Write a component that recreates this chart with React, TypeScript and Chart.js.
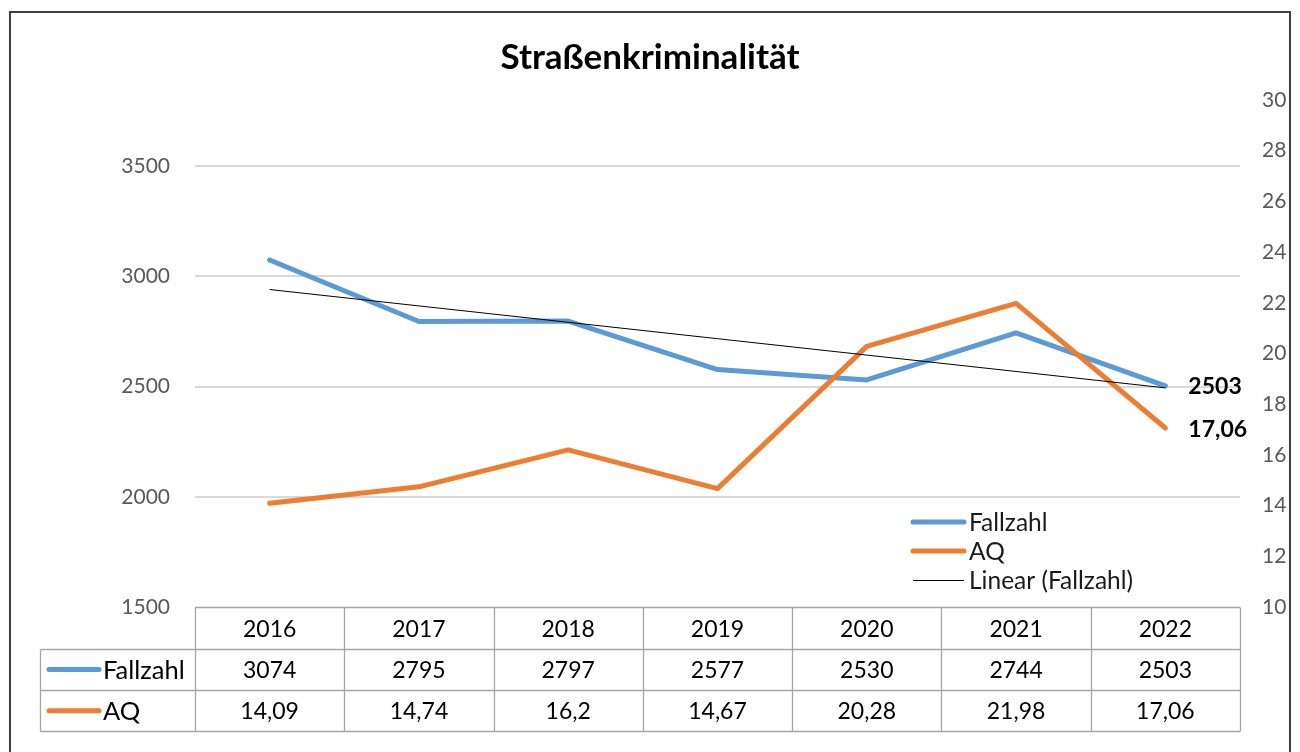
import React, { useEffect, useRef } from 'react';
import { Chart, registerables } from 'chart.js';

Chart.register(...registerables);

const TITLE = 'Straßenkriminalität';
const YEARS = ['2016', '2017', '2018', '2019', '2020', '2021', '2022'];
const FALLZAHL = [3074, 2795, 2797, 2577, 2530, 2744, 2503];
const AQ = [14.09, 14.74, 16.2, 14.67, 20.28, 21.98, 17.06];
const LEFT_TICKS = [1500, 2000, 2500, 3000, 3500];
const RIGHT_TICKS = [10, 12, 14, 16, 18, 20, 22, 24, 26, 28, 30];
const LEFT_MIN = 1500;
const LEFT_MAX = 3800;
const RIGHT_MIN = 10;
const RIGHT_MAX = 30;
const SERIES_NAMES = ['Fallzahl', 'AQ', 'Linear (Fallzahl)'];

const BLUE = '#5B9BD5';
const ORANGE = '#ED7D31';
const FONT = 'Lato, "Open Sans", "Noto Sans", sans-serif';

function linearTrend(values: number[]): number[] {
  const n = values.length;
  const xs = values.map((_, i) => i + 1);
  const mx = xs.reduce((a, b) => a + b, 0) / n;
  const my = values.reduce((a, b) => a + b, 0) / n;
  let sxy = 0;
  let sxx = 0;
  for (let i = 0; i < n; i++) {
    sxy += (xs[i] - mx) * (values[i] - my);
    sxx += (xs[i] - mx) * (xs[i] - mx);
  }
  const slope = sxy / sxx;
  return xs.map((x) => my + slope * (x - mx));
}

const fmt = (v: number) => String(v).replace('.', ',');

const decorPlugin = {
  id: 'decor',
  beforeDraw(chart: any) {
    const ctx = chart.ctx;
    ctx.save();
    ctx.fillStyle = '#ffffff';
    ctx.fillRect(0, 0, chart.width, chart.height);
    ctx.restore();
  },
  afterDraw(chart: any) {
    const ctx = chart.ctx as CanvasRenderingContext2D;
    const ca = chart.chartArea;
    const xs = chart.scales.x;
    ctx.save();

    // outer frame
    ctx.strokeStyle = '#3f3f3f';
    ctx.lineWidth = 2;
    ctx.strokeRect(10, 12, 1280, 800);

    // title
    ctx.fillStyle = '#000000';
    ctx.font = `bold 35px ${FONT}`;
    ctx.textAlign = 'center';
    ctx.textBaseline = 'middle';
    ctx.fillText(TITLE, 650, 58);

    // data table
    const n = YEARS.length;
    const colW = (ca.right - ca.left) / n;
    const rowH = 41.3;
    const top = Math.round(ca.bottom) + 0.5;
    const labelLeft = 40.5;
    ctx.strokeStyle = '#a6a6a6';
    ctx.lineWidth = 1.3;
    ctx.beginPath();
    ctx.moveTo(ca.left, top);
    ctx.lineTo(ca.right, top);
    for (let r = 1; r <= 3; r++) {
      const y = Math.round(top + r * rowH) + 0.5;
      ctx.moveTo(labelLeft, y);
      ctx.lineTo(ca.right, y);
    }
    for (let i = 0; i <= n; i++) {
      const x = Math.round(ca.left + i * colW) + 0.5;
      ctx.moveTo(x, top);
      ctx.lineTo(x, Math.round(top + 3 * rowH) + 0.5);
    }
    ctx.moveTo(labelLeft, Math.round(top + rowH) + 0.5);
    ctx.lineTo(labelLeft, Math.round(top + 3 * rowH) + 0.5);
    ctx.stroke();

    ctx.fillStyle = '#000000';
    ctx.font = `23px ${FONT}`;
    ctx.textAlign = 'center';
    ctx.textBaseline = 'middle';
    YEARS.forEach((yr, i) => {
      const cx = xs.getPixelForValue(i);
      ctx.fillText(yr, cx, top + rowH * 0.5 + 1);
      ctx.fillText(String(FALLZAHL[i]), cx, top + rowH * 1.5 + 1);
      ctx.fillText(fmt(AQ[i]), cx, top + rowH * 2.5 + 1);
    });

    // row labels with keys
    const rowKeys = [
      { name: SERIES_NAMES[0], color: BLUE },
      { name: SERIES_NAMES[1], color: ORANGE },
    ];
    rowKeys.forEach((k, r) => {
      const y = top + rowH * (1.5 + r);
      ctx.strokeStyle = k.color;
      ctx.lineWidth = 5;
      ctx.lineCap = 'round';
      ctx.beginPath();
      ctx.moveTo(49, y);
      ctx.lineTo(99, y);
      ctx.stroke();
      ctx.fillStyle = '#000000';
      ctx.font = `25.5px ${FONT}`;
      ctx.textAlign = 'left';
      ctx.fillText(k.name, 103, y + 1);
    });

    // legend inside plot
    const legendItems = [
      { name: SERIES_NAMES[0], color: BLUE, w: 5, y: 522 },
      { name: SERIES_NAMES[1], color: ORANGE, w: 5, y: 551 },
      { name: SERIES_NAMES[2], color: '#000000', w: 1, y: 580 },
    ];
    legendItems.forEach((it) => {
      ctx.strokeStyle = it.color;
      ctx.lineWidth = it.w;
      ctx.lineCap = it.w > 1 ? 'round' : 'butt';
      ctx.beginPath();
      ctx.moveTo(913, it.y + (it.w === 1 ? 0.5 : 0));
      ctx.lineTo(964, it.y + (it.w === 1 ? 0.5 : 0));
      ctx.stroke();
      ctx.fillStyle = '#1a1a1a';
      ctx.font = `24.5px ${FONT}`;
      ctx.textAlign = 'left';
      ctx.textBaseline = 'middle';
      ctx.fillText(it.name, 969, it.y + 1);
    });

    // data labels on last points
    const m0 = chart.getDatasetMeta(0).data;
    const m1 = chart.getDatasetMeta(1).data;
    const last = n - 1;
    ctx.fillStyle = '#000000';
    ctx.font = `bold 23px ${FONT}`;
    ctx.textAlign = 'left';
    ctx.textBaseline = 'middle';
    ctx.fillText(String(FALLZAHL[last]), m0[last].x + 23, m0[last].y + 1);
    ctx.fillText(fmt(AQ[last]), m1[last].x + 23, m1[last].y + 2);

    ctx.restore();
  },
};

export default function App() {
  const ref = useRef<HTMLCanvasElement | null>(null);

  useEffect(() => {
    if (!ref.current) return;
    const trend = linearTrend(FALLZAHL);
    const chart = new Chart(ref.current, {
      type: 'line',
      data: {
        labels: YEARS,
        datasets: [
          {
            label: SERIES_NAMES[0],
            data: FALLZAHL,
            borderColor: BLUE,
            backgroundColor: BLUE,
            borderWidth: 5,
            pointRadius: 0,
            borderCapStyle: 'round',
            borderJoinStyle: 'round',
            yAxisID: 'y',
            order: 2,
          },
          {
            label: SERIES_NAMES[1],
            data: AQ,
            borderColor: ORANGE,
            backgroundColor: ORANGE,
            borderWidth: 5,
            pointRadius: 0,
            borderCapStyle: 'round',
            borderJoinStyle: 'round',
            yAxisID: 'y1',
            order: 1,
          },
          {
            label: SERIES_NAMES[2],
            data: trend,
            borderColor: '#000000',
            borderWidth: 1,
            pointRadius: 0,
            yAxisID: 'y',
            order: 0,
          },
        ],
      },
      options: {
        responsive: false,
        animation: false,
        layout: { padding: { left: 0, right: 0, top: 100, bottom: 145 } },
        plugins: {
          legend: { display: false },
          title: { display: false },
          tooltip: { enabled: false },
        },
        scales: {
          x: {
            type: 'category',
            display: false,
            offset: true,
          },
          y: {
            position: 'left',
            min: LEFT_MIN,
            max: LEFT_MAX,
            afterBuildTicks: (s: any) => {
              s.ticks = LEFT_TICKS.map((v) => ({ value: v }));
            },
            afterFit: (s: any) => {
              s.width = 195;
            },
            border: { display: false },
            grid: {
              drawTicks: false,
              color: (c: any) => (c.tick && c.tick.value === LEFT_MIN ? 'rgba(0,0,0,0)' : '#d9d9d9'),
              lineWidth: 2,
            },
            ticks: {
              padding: 25,
              color: '#595959',
              font: { family: FONT, size: 21 },
              callback: (v: any) => String(v),
            },
          },
          y1: {
            position: 'right',
            min: RIGHT_MIN,
            max: RIGHT_MAX,
            afterBuildTicks: (s: any) => {
              s.ticks = RIGHT_TICKS.map((v) => ({ value: v }));
            },
            afterFit: (s: any) => {
              s.width = 60;
            },
            border: { display: false },
            grid: { display: false, drawTicks: false },
            ticks: {
              padding: 22,
              color: '#595959',
              font: { family: FONT, size: 21 },
              callback: (v: any) => String(v),
            },
          },
        },
      },
      plugins: [decorPlugin],
    });
    return () => chart.destroy();
  }, []);

  return (
    <div style={{ position: 'fixed', left: 0, top: 0, width: 1300, height: 752, background: '#fff' }}>
      <canvas ref={ref} width={1300} height={752} style={{ display: 'block' }} />
    </div>
  );
}
